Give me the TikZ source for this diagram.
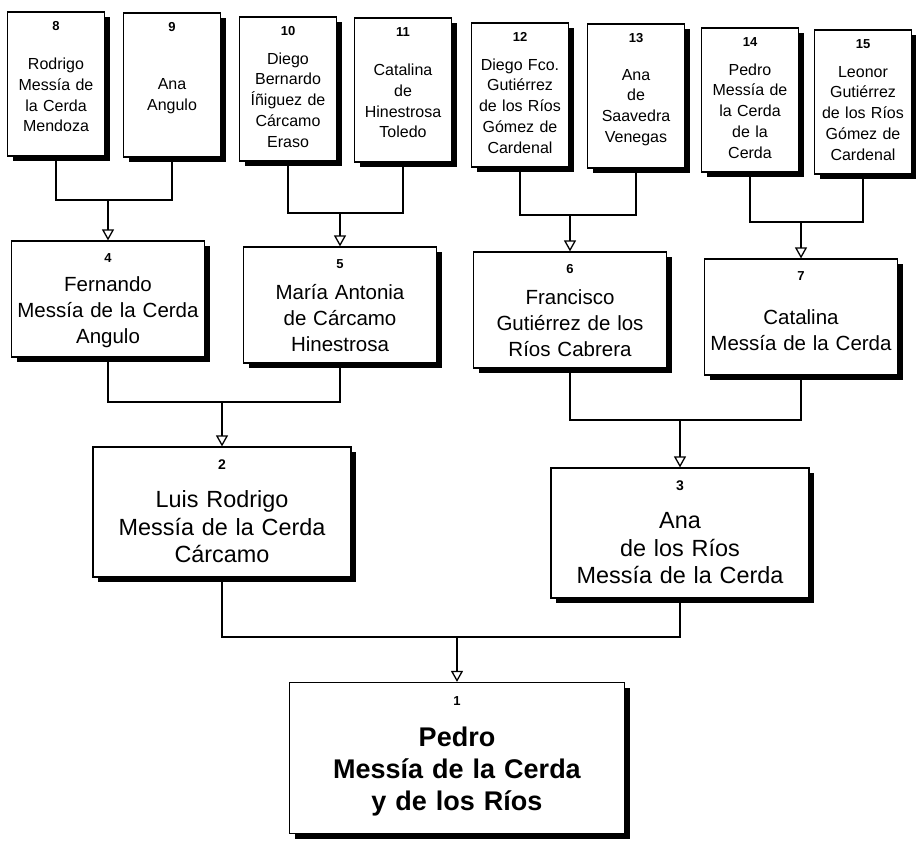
\documentclass[tikz,border=0pt]{standalone}
\usepackage{fontspec}
\setmainfont{Liberation Sans}
\usetikzlibrary{arrows.meta,shadows}

\tikzset{
  person/.style={draw, line width=1.2pt, fill=white, align=center, inner sep=0pt,
    drop shadow={shadow xshift=5pt, shadow yshift=-5pt, fill=black, opacity=1}},
  gen4/.style={person, minimum width=97pt, minimum height=144pt, text width=95pt,
    font=\fontsize{16}{20.7}\selectfont, execute at begin node={\rule{0pt}{33.5pt}}},
  gen3/.style={person, minimum width=193pt, minimum height=116pt, text width=190pt,
    font=\fontsize{20.5}{26}\selectfont, execute at begin node={\rule{0pt}{41.7pt}}},
  gen2/.style={person, minimum width=258pt, minimum height=130pt, text width=254pt,
    font=\fontsize{23.4}{27.5}\selectfont, execute at begin node={\rule{0pt}{46.8pt}}},
  gen1/.style={person, minimum width=335pt, minimum height=151pt, text width=330pt,
    font=\bfseries\fontsize{27}{32}\selectfont, execute at begin node={\rule{0pt}{46.3pt}}},
  num/.style={anchor=north, inner sep=0pt, font=\bfseries\fontsize{13}{13}\selectfont},
  link/.style={line width=1.3pt},
  down/.style={link, -{Triangle[open, width=12pt, length=11pt]}},
}

\begin{document}
\begin{tikzpicture}[x=1pt, y=-1pt]
  \useasboundingbox (0,0) rectangle (916,847);

  % great-grandparents
  \node[gen4, label={[num, yshift=-9.5pt]north:8}] (p8) at (56,84) {Rodrigo\\Messía de\\la Cerda\\Mendoza};
  \node[gen4, label={[num, yshift=-9.5pt]north:9}] (p9) at (172,85) {Ana\\Angulo};
  \node[gen4, label={[num, yshift=-9.5pt]north:10}] (p10) at (288,89) {Diego\\Bernardo\\Íñiguez de\\Cárcamo\\Eraso};
  \node[gen4, label={[num, yshift=-9.5pt]north:11}] (p11) at (403,90) {Catalina\\de\\Hinestrosa\\Toledo};
  \node[gen4, label={[num, yshift=-9.5pt]north:12}] (p12) at (520,95) {Diego Fco.\\Gutiérrez\\de los Ríos\\Gómez de\\Cardenal};
  \node[gen4, label={[num, yshift=-9.5pt]north:13}] (p13) at (636,96) {Ana\\de\\Saavedra\\Venegas};
  \node[gen4, label={[num, yshift=-9.5pt]north:14}] (p14) at (750,100) {Pedro\\Messía de\\la Cerda\\de la\\Cerda};
  \node[gen4, label={[num, yshift=-9.5pt]north:15}] (p15) at (863,102) {Leonor\\Gutiérrez\\de los Ríos\\Gómez de\\Cardenal};

  % grandparents
  \node[gen3, label={[num, yshift=-13pt]north:4}] (p4) at (108,299) {Fernando\\Messía de la Cerda\\Angulo};
  \node[gen3, label={[num, yshift=-13pt]north:5}] (p5) at (340,305) {María Antonia\\de Cárcamo\\Hinestrosa};
  \node[gen3, label={[num, yshift=-13pt]north:6}] (p6) at (570,310) {Francisco\\Gutiérrez de los\\Ríos Cabrera};
  \node[gen3, label={[num, yshift=-13pt]north:7}] (p7) at (801,317) {Catalina\\Messía de la Cerda};

  % parents
  \node[gen2, label={[num, yshift=-13pt, font=\bfseries\fontsize{14}{14}\selectfont]north:2}] (p2) at (222,512) {Luis Rodrigo\\Messía de la Cerda\\Cárcamo};
  \node[gen2, label={[num, yshift=-13pt, font=\bfseries\fontsize{14}{14}\selectfont]north:3}] (p3) at (680,533) {Ana\\de los Ríos\\Messía de la Cerda};

  % subject
  \node[gen1, label={[num, yshift=-14pt]north:1}] (p1) at (457,758) {Pedro\\Messía de la Cerda\\y de los Ríos};

  % junctions
  \coordinate (j4) at (p4.north |- 0,200);
  \coordinate (j5) at (p5.north |- 0,213);
  \coordinate (j6) at (p6.north |- 0,215);
  \coordinate (j7) at (p7.north |- 0,222);
  \coordinate (j2) at (p2.north |- 0,402);
  \coordinate (j3) at (p3.north |- 0,420);
  \coordinate (j1) at (p1.north |- 0,637);

  \draw[link] (p8.south) |- (j4) -| (p9.south);
  \draw[link] (p10.south) |- (j5) -| (p11.south);
  \draw[link] (p12.south) |- (j6) -| (p13.south);
  \draw[link] (p14.south) |- (j7) -| (p15.south);
  \draw[link] (p4.south) |- (j2) -| (p5.south);
  \draw[link] (p6.south) |- (j3) -| (p7.south);
  \draw[link] (p2.south) |- (j1) -| (p3.south);

  \draw[down] (j4) -- (p4.north);
  \draw[down] (j5) -- (p5.north);
  \draw[down] (j6) -- (p6.north);
  \draw[down] (j7) -- (p7.north);
  \draw[down] (j2) -- (p2.north);
  \draw[down] (j3) -- (p3.north);
  \draw[down] (j1) -- (p1.north);
\end{tikzpicture}
\end{document}
